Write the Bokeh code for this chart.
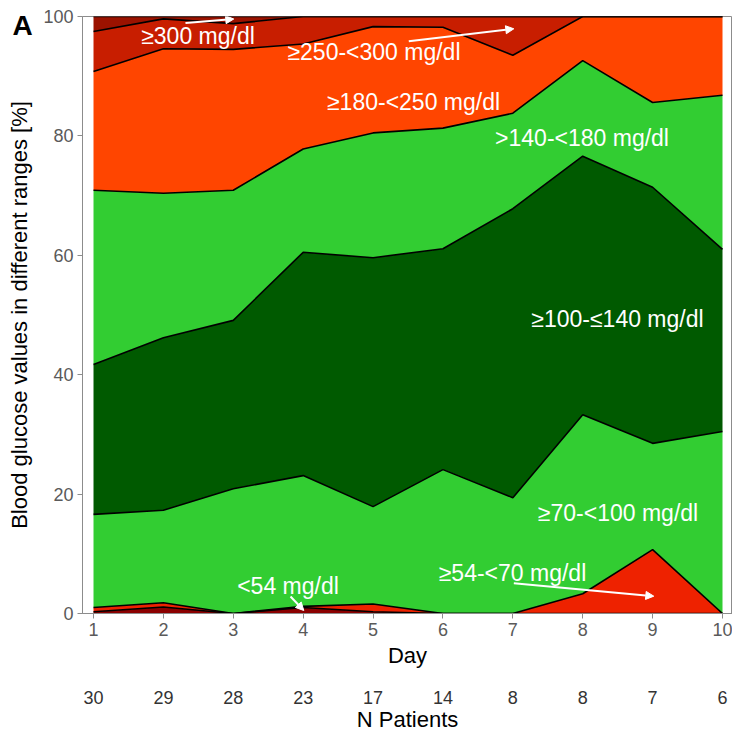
import numpy as np
from bokeh.plotting import figure
from bokeh.models import (ColumnDataSource, Range1d, FixedTicker, LinearAxis,
                          Label, Arrow, NormalHead, Title)
from bokeh.embed import file_html
from bokeh.resources import INLINE

# ---- data (percent of values per glucose range, per day) ----
days = [1, 2, 3, 4, 5, 6, 7, 8, 9, 10]
n_patients = [30, 29, 28, 23, 17, 14, 8, 8, 7, 6]

lt54      = [0.3, 1.1, 0.0, 1.0, 0.3, 0.0, 0.0, 0.0, 0.0, 0.0]
r54_70    = [0.7, 0.7, 0.0, 0.2, 1.3, 0.0, 0.0, 3.3, 10.7, 0.0]
r70_100   = [15.6, 15.5, 20.9, 21.9, 16.3, 24.1, 19.4, 30.0, 17.8, 30.5]
r100_140  = [25.1, 28.9, 28.2, 37.4, 41.7, 37.0, 48.4, 43.3, 42.9, 30.5]
r140_180  = [29.2, 24.2, 21.8, 17.3, 20.9, 20.2, 16.0, 16.0, 14.2, 25.8]
r180_250  = [19.9, 24.2, 23.6, 17.6, 17.8, 16.9, 9.7, 7.4, 14.4, 13.2]
r250_300  = [6.7, 5.0, 4.3, 4.6, 1.7, 1.8, 6.5, 0.0, 0.0, 0.0]
ge300     = [2.5, 0.4, 1.2, 0.0, 0.0, 0.0, 0.0, 0.0, 0.0, 0.0]

range_names = ["lt54", "r54_70", "r70_100", "r100_140", "r140_180",
               "r180_250", "r250_300", "ge300"]
range_colors = ["#8B0000", "#EE2200", "#32CD32", "#005A00", "#32CD32",
                "#FF4500", "#C81E00", "#9B1200"]

source = ColumnDataSource(dict(day=days, lt54=lt54, r54_70=r54_70,
                               r70_100=r70_100, r100_140=r100_140,
                               r140_180=r140_180, r180_250=r180_250,
                               r250_300=r250_300, ge300=ge300))

FONT = "Liberation Sans"

# panel tag "A" as a title drawn into the top-left corner
tag = Title(text="A", align="left", offset=-70, standoff=-48,
            vertical_align="bottom", text_font=FONT, text_font_size="28px",
            text_font_style="bold", text_color="black")

p = figure(width=732, height=735, output_backend="svg", toolbar_location=None,
           x_range=Range1d(0.8426, 10.143), y_range=Range1d(0, 100),
           min_border_left=82, min_border_top=16, min_border_right=0,
           min_border_bottom=122, title=tag)
p.background_fill_color = "white"
p.border_fill_color = "white"
p.outline_line_color = "#8c8c8c"
p.xgrid.visible = False
p.ygrid.visible = False

p.varea_stack(stackers=range_names, x="day", color=range_colors, source=source)
p.vline_stack(stackers=range_names, x="day", color="black", line_width=1.6,
              source=source)

# axes styling
def style_axis(ax, label_size="18px", title_size="22px"):
    ax.axis_line_color = "#8c8c8c"
    ax.major_tick_line_color = "#8c8c8c"
    ax.major_tick_out = 5
    ax.major_tick_in = 0
    ax.minor_tick_line_color = None
    ax.major_label_text_font = FONT
    ax.major_label_text_font_size = label_size
    ax.major_label_text_color = "#5a5a5a"
    ax.axis_label_text_font = FONT
    ax.axis_label_text_font_size = title_size
    ax.axis_label_text_font_style = "normal"
    ax.axis_label_text_color = "black"

xa = p.xaxis[0]
style_axis(xa)
xa.ticker = FixedTicker(ticks=days)
xa.axis_label = "Day"
xa.major_label_standoff = 4
xa.axis_label_standoff = 4

ya = p.yaxis[0]
style_axis(ya)
ya.ticker = FixedTicker(ticks=[0, 20, 40, 60, 80, 100])
ya.axis_label = "Blood glucose values in different ranges [%]"
ya.major_label_standoff = 4
ya.axis_label_standoff = 8

pa = LinearAxis(ticker=FixedTicker(ticks=days),
                major_label_overrides={d: str(n) for d, n in zip(days, n_patients)},
                axis_label="N Patients")
style_axis(pa)
pa.axis_line_color = None
pa.major_tick_line_color = None
pa.major_tick_out = 0
pa.major_label_text_color = "#333333"
pa.major_label_standoff = 20
pa.axis_label_standoff = 0
p.add_layout(pa, "below")

# range labels (white text)
labels = [
    ("\u2265300 mg/dl", 2.495, 96.8),
    ("\u2265250-<300 mg/dl", 5.013, 93.97),
    ("\u2265180-<250 mg/dl", 5.579, 85.76),
    (">140-<180 mg/dl", 7.99, 79.65),
    ("\u2265100-\u2264140 mg/dl", 8.497, 49.4),
    ("\u226570-<100 mg/dl", 8.505, 16.9),
    ("<54 mg/dl", 3.783, 4.69),
    ("\u226554-<70 mg/dl", 6.995, 6.78),
]
for txt, lx, ly in labels:
    p.add_layout(Label(x=lx, y=ly, text=txt, text_color="white",
                       text_font=FONT, text_font_size="23px",
                       text_align="center", text_baseline="middle"))

arrows = [
    (2.316, 98.91, 3.007, 99.58),
    (5.511, 95.86, 7.014, 97.94),
    (3.819, 2.85, 4.009, 0.50),
    (7.014, 5.08, 9.017, 2.90),
]
for x0, y0, x1, y1 in arrows:
    p.add_layout(Arrow(x_start=x0, y_start=y0, x_end=x1, y_end=y1,
                       line_color="white", line_width=2,
                       end=NormalHead(size=8, fill_color="white",
                                      line_color="white")))

open("out.html", "w").write(file_html(p, INLINE))
